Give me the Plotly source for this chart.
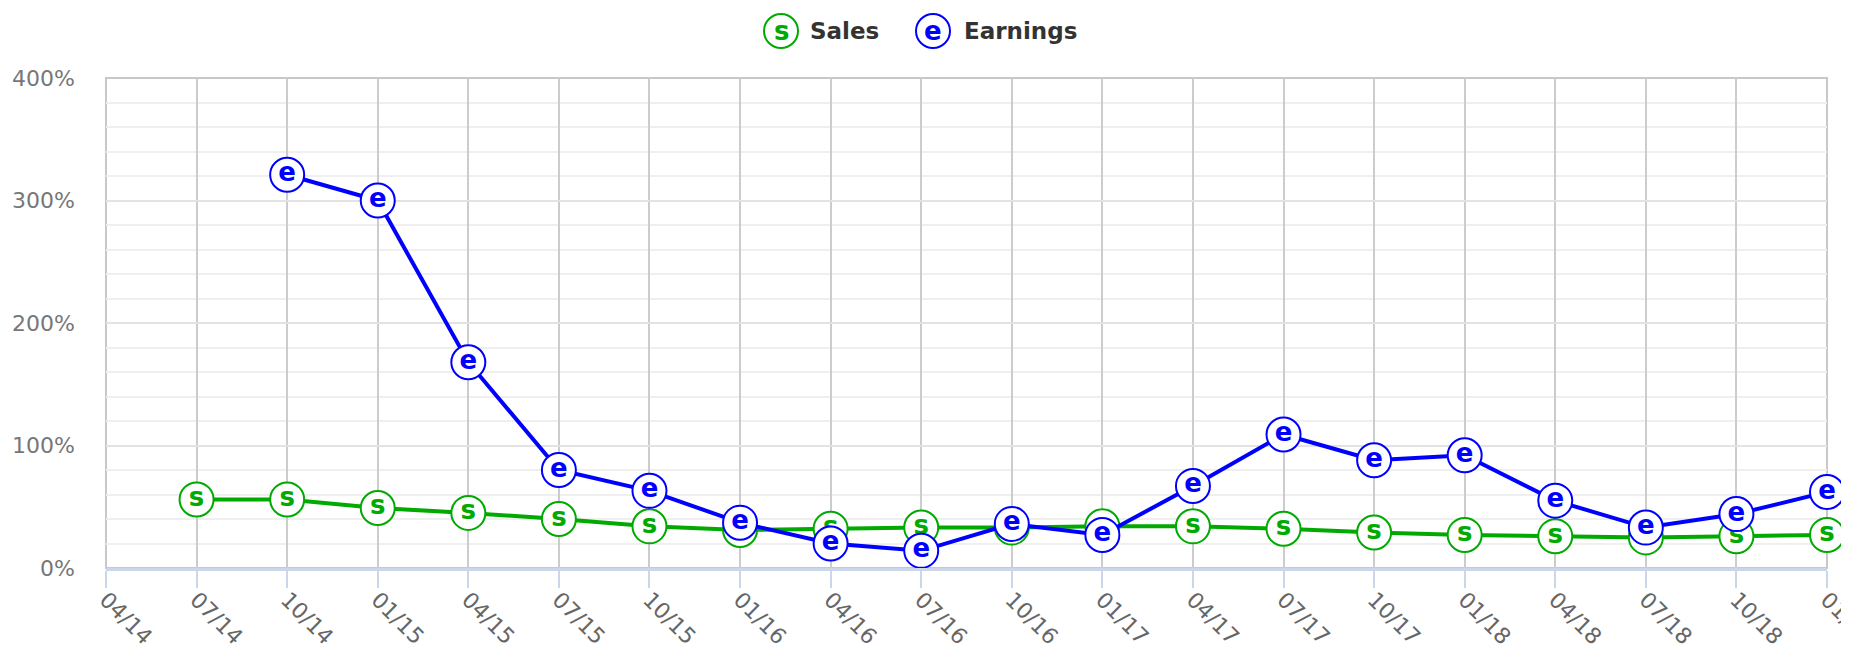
import plotly.graph_objects as go

categories = ["04/14", "07/14", "10/14", "01/15", "04/15", "07/15", "10/15", "01/16",
              "04/16", "07/16", "10/16", "01/17", "04/17", "07/17", "10/17", "01/18",
              "04/18", "07/18", "10/18", "01/19"]

sales_quarters = categories[1:]
sales_values = [56, 56, 49, 45, 40, 34, 31, 32, 33, 33, 34, 34, 32, 29, 27, 26, 25, 26, 27]

earnings_quarters = categories[2:]
earnings_values = [321, 300, 168, 80, 63, 37, 20, 14, 36, 27, 67, 109, 88, 92, 55, 33, 44, 62]

GREEN = "#00aa00"
BLUE = "#0000ff"
FONT = "DejaVu Sans"

# page offset caused by the default 8px body margin
OX, OY = 8, 8
PAGE_W, PAGE_H = 1849, 652
W, H = PAGE_W - OX, PAGE_H - OY
# plot area in page pixels: left 106, right 1827, top 78, bottom 568
ML, MR, MT, MB = 106 - OX, PAGE_W - 1827, 78 - OY, PAGE_H - 568

fig = go.Figure()

fig.add_trace(go.Scatter(
    x=sales_quarters, y=sales_values, name="Sales",
    mode="lines+markers+text", text=["s"] * len(sales_values),
    textposition="middle center",
    textfont=dict(family=FONT, size=26, color=GREEN, weight="bold"),
    line=dict(color=GREEN, width=4),
    marker=dict(size=34, color="white", line=dict(color=GREEN, width=2)),
    showlegend=False, cliponaxis=False,
))

fig.add_trace(go.Scatter(
    x=earnings_quarters, y=earnings_values, name="Earnings",
    mode="lines+markers+text", text=["e"] * len(earnings_values),
    textposition="middle center",
    textfont=dict(family=FONT, size=26, color=BLUE, weight="bold"),
    line=dict(color=BLUE, width=4),
    marker=dict(size=34, color="white", line=dict(color=BLUE, width=2)),
    showlegend=False, cliponaxis=False,
))

# plot frame
fig.add_shape(type="rect", xref="x domain", yref="y domain", x0=0, x1=1, y0=0, y1=1,
              line=dict(color="#c8c8c8", width=2), layer="below")

# custom legend (circle symbol with letter + label), positions in page pixels
pw = W - ML - MR
ph = H - MT - MB

def px2paper_x(px):
    return (px - OX - ML) / pw

def px2paper_y(py):
    return (H - MB - (py - OY)) / ph

legend_items = [("s", "Sales", GREEN, 781, 808), ("e", "Earnings", BLUE, 933, 962)]
ly = 31
for letter, label, col, cx, tx in legend_items:
    fig.add_shape(type="circle", xref="paper", yref="paper",
                  xsizemode="pixel", ysizemode="pixel",
                  xanchor=px2paper_x(cx), yanchor=px2paper_y(ly),
                  x0=-17, x1=17, y0=-17, y1=17,
                  line=dict(color=col, width=2), fillcolor="white")
    fig.add_annotation(xref="paper", yref="paper", x=px2paper_x(cx), y=px2paper_y(ly),
                       text=letter, showarrow=False, xanchor="center", yanchor="middle",
                       font=dict(family=FONT, size=26, color=col, weight="bold"))
    fig.add_annotation(xref="paper", yref="paper", x=px2paper_x(tx), y=px2paper_y(ly),
                       text=label, showarrow=False, xanchor="left", yanchor="middle",
                       font=dict(family=FONT, size=23, color="#333333", weight="bold"))

fig.update_layout(
    width=W, height=H,
    margin=dict(l=ML, r=MR, t=MT, b=MB, pad=0, autoexpand=False),
    paper_bgcolor="white", plot_bgcolor="white",
    font=dict(family=FONT, color="#666666"),
    showlegend=False,
    xaxis=dict(
        type="category", categoryorder="array", categoryarray=categories,
        tickvals=categories, ticktext=categories,
        range=[0, len(categories) - 1], automargin=False,
        showgrid=True, gridcolor="#cccccc", gridwidth=2,
        showline=True, linecolor="#ccd6eb", linewidth=3,
        ticks="outside", ticklen=17, tickcolor="#ccd6eb", tickwidth=2,
        tickangle=45, tickfont=dict(family=FONT, size=22, color="#666666"),
        ticklabelstandoff=-10,
        zeroline=False,
    ),
    yaxis=dict(
        range=[0, 400], dtick=100, tick0=0, ticksuffix="%", automargin=False,
        showgrid=True, gridcolor="#e3e3e3", gridwidth=2,
        minor=dict(dtick=20, showgrid=True, gridcolor="#efefef", gridwidth=2),
        zeroline=False, showline=False, ticks="",
        ticklabelstandoff=30,
        tickfont=dict(family=FONT, size=22, color="#777777"),
    ),
)

fig.write_html("out.html")
